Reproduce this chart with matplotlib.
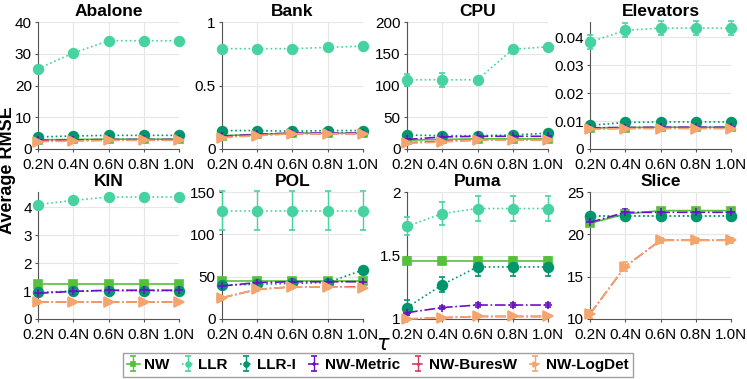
import numpy as np
import matplotlib
matplotlib.use("Agg")
import matplotlib.pyplot as plt

plt.rcParams['font.family'] = ['Liberation Sans', 'DejaVu Sans']

# x 위치 (훈련 데이터 비율)
fracs = [0.2, 0.4, 0.6, 0.8, 1.0]
tick_labels = ["0.2N", "0.4N", "0.6N", "0.8N", "1.0N"]

datasets = ["Abalone", "Bank", "CPU", "Elevators", "KIN", "POL", "Puma", "Slice"]
methods = ["NW", "LLR", "LLR-I", "NW-Metric", "NW-BuresW", "NW-LogDet"]

# 각 데이터셋별 평균 RMSE
abalone = {
    "NW": [2.9, 3.0, 3.1, 3.1, 3.1],
    "LLR": [25.3, 30.2, 34.1, 34.1, 34.1],
    "LLR-I": [3.8, 4.1, 4.3, 4.3, 4.3],
    "NW-Metric": [2.7, 2.8, 3.0, 3.0, 3.0],
    "NW-BuresW": [2.5, 2.6, 2.8, 2.8, 2.8],
    "NW-LogDet": [2.3, 2.5, 2.7, 2.7, 2.7],
}
bank = {
    "NW": [0.105, 0.115, 0.125, 0.125, 0.125],
    "LLR": [0.79, 0.79, 0.79, 0.80, 0.81],
    "LLR-I": [0.145, 0.145, 0.14, 0.145, 0.145],
    "NW-Metric": [0.10, 0.115, 0.125, 0.125, 0.125],
    "NW-BuresW": [0.095, 0.11, 0.12, 0.12, 0.12],
    "NW-LogDet": [0.09, 0.105, 0.12, 0.12, 0.12],
}
cpu = {
    "NW": [14, 15, 16, 16, 16],
    "LLR": [109, 109, 109, 157, 161],
    "LLR-I": [22, 21, 21, 22, 25],
    "NW-Metric": [15, 19, 20, 20, 20],
    "NW-BuresW": [10, 12, 14, 14, 14],
    "NW-LogDet": [9, 11, 14, 14, 14],
}
elevators = {
    "NW": [0.0075, 0.0077, 0.0078, 0.0078, 0.0078],
    "LLR": [0.0383, 0.0425, 0.0433, 0.0433, 0.0433],
    "LLR-I": [0.0085, 0.0095, 0.0097, 0.0097, 0.0097],
    "NW-Metric": [0.0076, 0.0077, 0.0078, 0.0078, 0.0078],
    "NW-BuresW": [0.0073, 0.0074, 0.0075, 0.0075, 0.0075],
    "NW-LogDet": [0.0071, 0.0073, 0.0073, 0.0073, 0.0073],
}
kin = {
    "NW": [1.27, 1.27, 1.27, 1.27, 1.27],
    "LLR": [4.1, 4.25, 4.37, 4.37, 4.37],
    "LLR-I": [0.95, 1.0, 1.02, 1.02, 1.02],
    "NW-Metric": [0.92, 0.99, 1.03, 1.03, 1.03],
    "NW-BuresW": [0.6, 0.6, 0.6, 0.6, 0.6],
    "NW-LogDet": [0.6, 0.6, 0.6, 0.6, 0.6],
}
pol = {
    "NW": [45, 45, 45, 45, 45],
    "LLR": [128, 128, 128, 128, 128],
    "LLR-I": [40, 41, 42, 43, 58],
    "NW-Metric": [39, 43, 44, 44, 44],
    "NW-BuresW": [25, 35, 38, 38, 38],
    "NW-LogDet": [25, 35, 38, 38, 37],
}
puma = {
    "NW": [1.46, 1.46, 1.46, 1.46, 1.46],
    "LLR": [1.73, 1.83, 1.87, 1.87, 1.87],
    "LLR-I": [1.09, 1.27, 1.41, 1.41, 1.41],
    "NW-Metric": [1.05, 1.09, 1.11, 1.11, 1.11],
    "NW-BuresW": [1.0, 1.01, 1.02, 1.02, 1.02],
    "NW-LogDet": [1.0, 1.01, 1.02, 1.02, 1.02],
}
slice_ = {
    "NW": [21.3, 22.4, 22.8, 22.8, 22.8],
    "LLR": [22.2, 22.2, 22.2, 22.2, 22.2],
    "LLR-I": [22.2, 22.2, 22.2, 22.2, 22.2],
    "NW-Metric": [21.4, 22.6, 22.6, 22.6, 22.6],
    "NW-BuresW": [10.6, 16.2, 19.3, 19.3, 19.3],
    "NW-LogDet": [10.6, 16.2, 19.3, 19.3, 19.3],
}

# 표준편차 (눈에 띄는 것만)
errors = {
    "CPU": {"LLR": [9, 11, 0, 0, 0]},
    "Elevators": {"LLR": [0.0025, 0.0025, 0.0025, 0.0025, 0.0025]},
    "POL": {"LLR": [23, 23, 23, 23, 23]},
    "Puma": {"LLR": [0.07, 0.09, 0.1, 0.1, 0.1],
             "NW": [0.03, 0.03, 0.03, 0.03, 0.03],
             "LLR-I": [0.06, 0.06, 0.07, 0.07, 0.07],
             "NW-Metric": [0.015, 0.015, 0.015, 0.015, 0.015],
             "NW-BuresW": [0.005, 0.005, 0.005, 0.005, 0.005],
             "NW-LogDet": [0.005, 0.005, 0.005, 0.005, 0.005]},
    "Slice": {"NW-LogDet": [0.5, 0.5, 0.3, 0.3, 0.3],
              "NW-Metric": [0.4, 0.4, 0.4, 0.4, 0.4],
              "NW": [0.3, 0.3, 0.3, 0.3, 0.3]},
}

all_data = [abalone, bank, cpu, elevators, kin, pol, puma, slice_]
ylims = [(0, 40), (0, 1), (0, 200), (0, 0.0455), (0, 4.55), (0, 150), (1, 2), (10, 25)]
yticks = [[0, 10, 20, 30, 40], [0, 0.5, 1], [0, 50, 100, 150, 200],
          [0, 0.01, 0.02, 0.03, 0.04], [0, 1, 2, 3, 4], [0, 50, 100, 150],
          [1, 1.5, 2], [10, 15, 20, 25]]
yticklabels = [None, ["0", "0.5", "1"], None, ["0", "0.01", "0.02", "0.03", "0.04"],
               None, None, ["1", "1.5", "2"], None]

styles = {
    "NW": dict(color="#55c03a", ls="-", marker="s", ms=6),
    "LLR": dict(color="#47d3a0", ls=":", marker="o", ms=7),
    "LLR-I": dict(color="#00956b", ls=":", marker="o", ms=7),
    "NW-Metric": dict(color="#6a10c8", ls="-.", marker="+", ms=6),
    "NW-BuresW": dict(color="#d63a5a", ls="-.", marker=".", ms=4),
    "NW-LogDet": dict(color="#f4a56d", ls="-.", marker=">", ms=7),
}

fig = plt.figure(figsize=(7.47, 3.79), dpi=100)
lefts = [38, 222, 407, 590]
tops = [22, 192]
W, H = 747, 379
aw, ah = 141, 127

handles = []
for i, name in enumerate(datasets):
    r, c = divmod(i, 4)
    ax = fig.add_axes([lefts[c] / W, 1 - (tops[r] + ah) / H, aw / W, ah / H])
    d = all_data[i]
    for m in methods:
        st = styles[m]
        err = errors.get(name, {}).get(m)
        h = ax.errorbar(fracs, d[m], yerr=err, color=st["color"], ls=st["ls"],
                        marker=st["marker"], ms=st["ms"], lw=1.2, capsize=2.5,
                        elinewidth=1.0, mew=1.2, clip_on=False, zorder=3)
        if name == "Puma":
            handles.append(h)
    ax.set_xlim(0.2, 1.0)
    ax.set_ylim(*ylims[i])
    ax.set_yticks(yticks[i])
    if yticklabels[i] is not None:
        ax.set_yticklabels(yticklabels[i])
    ax.set_xticks(fracs)
    ax.set_xticklabels(tick_labels)
    ax.set_title(name, fontsize=12.5, fontweight="bold", pad=4)
    ax.grid(True, color="#e6e6e6", lw=0.8)
    ax.set_axisbelow(True)
    for s in ["top", "right"]:
        ax.spines[s].set_visible(False)
    for s in ["left", "bottom"]:
        ax.spines[s].set_color("#555555")
        ax.spines[s].set_linewidth(0.8)
    ax.tick_params(labelsize=11, length=2.5, color="#555555", pad=2)
    ax.tick_params(axis="x", pad=4)

fig.text(8 / W, 1 - 170 / H, "Average RMSE", rotation=90, fontsize=13,
         fontweight="bold", ha="center", va="center")
fig.text(383 / W, 1 - 344 / H, r"$\tau$", fontsize=15, ha="center", va="center")

leg = fig.legend(handles, methods, loc="center", bbox_to_anchor=(378 / W, 1 - 365 / H),
                 ncol=6, frameon=True, fancybox=False, edgecolor="#888888",
                 prop=dict(weight="bold", size=11), handlelength=0.8,
                 handletextpad=0.3, columnspacing=0.8, borderpad=0.3,
                 markerscale=0.5)

fig.savefig("out.png", dpi=100)
